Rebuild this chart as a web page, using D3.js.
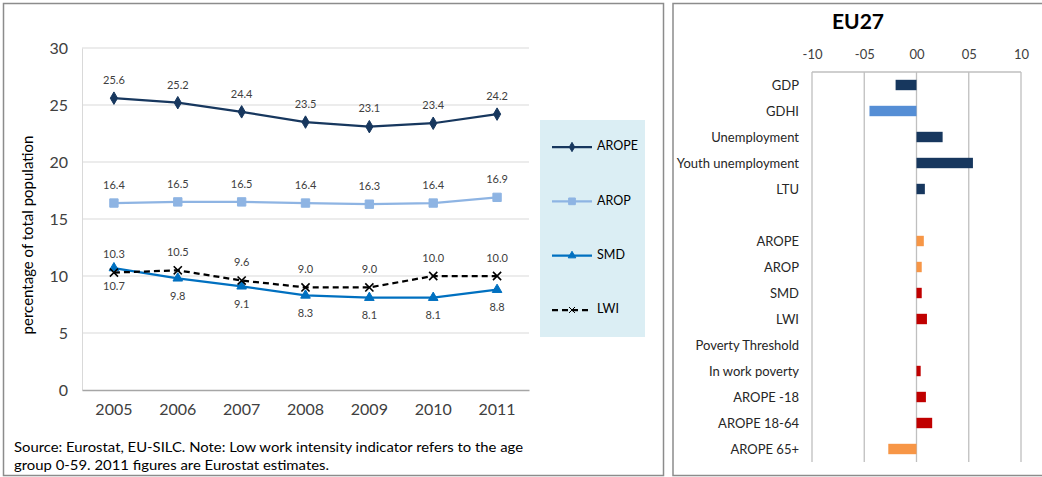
<!DOCTYPE html>
<html><head><meta charset="utf-8">
<script src="https://cdnjs.cloudflare.com/ajax/libs/d3/7.8.5/d3.min.js"></script>
<style>
html,body{margin:0;padding:0;background:#fff;}
svg text{font-family:Lato,"Open Sans",sans-serif;}
</style></head>
<body>
<svg id="c" width="1042" height="477"></svg>
<script>
// ---------- data: left chart ----------
const years = ["2005","2006","2007","2008","2009","2010","2011"];
const arope = [25.6,25.2,24.4,23.5,23.1,23.4,24.2];
const arop  = [16.4,16.5,16.5,16.4,16.3,16.4,16.9];
const smd   = [10.7,9.8,9.1,8.3,8.1,8.1,8.8];
const lwi   = [10.3,10.5,9.6,9.0,9.0,10.0,10.0];
const seriesNames = ["AROPE","AROP","SMD","LWI"];
const yTicks = [0,5,10,15,20,25,30];
const yTitle = "percentage of total population";
const note1 = "Source: Eurostat, EU-SILC. Note: Low work intensity indicator refers to the age";
const note2 = "group 0-59. 2011 figures are Eurostat estimates.";

// ---------- data: right chart ----------
const indicators = ["GDP","GDHI","Unemployment","Youth unemployment","LTU","",
  "AROPE","AROP","SMD","LWI","Poverty Threshold","In work poverty","AROPE -18","AROPE 18-64","AROPE 65+"];
const changes = [-0.20,-0.45,0.25,0.54,0.08,null,0.07,0.05,0.05,0.10,0,0.04,0.09,0.15,-0.27];
const groups = ["macro","income","macro","macro","macro","none",
  "povA","povA","povB","povB","povB","povB","povB","povB","povA"];
const xTickVals = [-1,-0.5,0,0.5,1];
const xTickLabels = ["-10","-05","00","05","10"];
const rightTitle = "EU27";

const svg = d3.select("#c");

// ---------- left panel ----------
svg.append("rect").attr("x",3.5).attr("y",3.5).attr("width",660).attr("height",472)
  .attr("fill","#fff").attr("stroke","#8c8c8c").attr("stroke-width",1.5);

const L = {left:82, right:529, top:48, bottom:390};
const x = d3.scaleBand().domain(years).range([L.left,L.right]);
const y = d3.scaleLinear().domain([0,30]).range([L.bottom,L.top]);
const cx = d => x(d) + x.bandwidth()/2;

// gridlines
svg.append("g").selectAll("line").data(yTicks.filter(t=>t>0)).join("line")
  .attr("x1",L.left).attr("x2",L.right).attr("y1",d=>y(d)).attr("y2",d=>y(d))
  .attr("stroke","#d9d9d9").attr("stroke-width",1);
// y axis
const yAx = svg.append("g").attr("transform",`translate(${L.left},0)`)
  .call(d3.axisLeft(y).tickValues(yTicks).tickSize(0).tickPadding(14));
yAx.select(".domain").attr("stroke","#d9d9d9");
yAx.selectAll("text").attr("font-size",16).attr("fill","#404040").attr("font-family","Lato,'Open Sans',sans-serif");
// x axis
const xAx = svg.append("g").attr("transform",`translate(0,${L.bottom})`)
  .call(d3.axisBottom(x).tickSize(0).tickPadding(14));
xAx.select(".domain").attr("stroke","#a6a6a6").attr("stroke-width",1.5);
xAx.selectAll("text").attr("font-size",16).attr("fill","#404040").attr("font-family","Lato,'Open Sans',sans-serif");

svg.append("text").attr("transform",`translate(29,235) rotate(-90)`)
  .attr("text-anchor","middle").attr("dominant-baseline","middle").attr("font-size",15).attr("fill","#000").text(yTitle);

const series = [
  {name:"AROPE", vals:arope, color:"#17375e", dash:null, marker:"diamond", lab:-17},
  {name:"AROP",  vals:arop,  color:"#8eb4e3", dash:null, marker:"square", lab:-17},
  {name:"SMD",   vals:smd,   color:"#0070c0", dash:null, marker:"triangle", lab:19},
  {name:"LWI",   vals:lwi,   color:"#000000", dash:"6,4", marker:"cross", lab:-17}
];
const symType = {diamond:d3.symbolDiamond, square:d3.symbolSquare, triangle:d3.symbolTriangle, cross:d3.symbolX};
const symSize = {diamond:45, square:70, triangle:40, cross:45};

const line = d3.line().x((d,i)=>cx(years[i])).y(d=>y(d));
series.forEach(s=>{
  svg.append("path").datum(s.vals).attr("d",line).attr("fill","none")
    .attr("stroke",s.color).attr("stroke-width",2.25).attr("stroke-dasharray",s.dash);
  const g = svg.append("g");
  g.selectAll("path").data(s.vals).join("path")
    .attr("transform",(d,i)=>`translate(${cx(years[i])},${y(d)})`)
    .attr("d",d3.symbol(symType[s.marker],symSize[s.marker]))
    .attr("fill",s.marker==="cross"?"none":s.color)
    .attr("stroke",s.color).attr("stroke-width",s.marker==="cross"?1.6:1);
  g.selectAll("text").data(s.vals).join("text")
    .attr("x",(d,i)=>cx(years[i])).attr("y",d=>y(d)+s.lab)
    .attr("text-anchor","middle").attr("dominant-baseline","middle")
    .attr("font-size",11).attr("fill","#404040").text(d=>d.toFixed(1));
});

// legend
svg.append("rect").attr("x",540).attr("y",120).attr("width",105).attr("height",217).attr("fill","#dbeef4");
const legY = d3.scalePoint().domain(seriesNames).range([147,310]);
series.forEach(s=>{
  const yy = legY(s.name);
  svg.append("line").attr("x1",552).attr("x2",592).attr("y1",yy).attr("y2",yy)
    .attr("stroke",s.color).attr("stroke-width",2.25).attr("stroke-dasharray",s.dash);
  svg.append("path").attr("transform",`translate(572,${yy})`)
    .attr("d",d3.symbol(symType[s.marker],s.marker==="square"?45:25))
    .attr("fill",s.marker==="cross"?"none":s.color).attr("stroke",s.color).attr("stroke-width",1);
  svg.append("text").attr("x",597).attr("y",yy).attr("dominant-baseline","middle")
    .attr("font-size",12.5).attr("fill","#000").text(s.name);
});

svg.append("text").attr("x",14).attr("y",452).attr("font-size",14).attr("fill","#000")
  .attr("textLength",509).attr("lengthAdjust","spacingAndGlyphs").text(note1);
svg.append("text").attr("x",14).attr("y",470).attr("font-size",14).attr("fill","#000")
  .attr("textLength",315).attr("lengthAdjust","spacingAndGlyphs").text(note2);

// ---------- right panel ----------
svg.append("rect").attr("x",673).attr("y",3.5).attr("width",380).attr("height",472)
  .attr("fill","#fff").attr("stroke","#8c8c8c").attr("stroke-width",1.5);

const R = {left:812, right:1021, top:72, bottom:462};
const xr = d3.scaleLinear().domain([-1,1]).range([R.left,R.right]);
const yr = d3.scaleBand().domain(indicators.map((d,i)=>i)).range([R.top,R.bottom]).paddingInner(0.6).paddingOuter(0.3);
const colorOf = d3.scaleOrdinal().domain(["macro","income","povA","povB","none"])
  .range(["#17375e","#558ed5","#f79646","#c00000","none"]);

svg.append("g").selectAll("line").data(xTickVals).join("line")
  .attr("x1",d=>xr(d)).attr("x2",d=>xr(d)).attr("y1",R.top).attr("y2",R.bottom)
  .attr("stroke","#bfbfbf").attr("stroke-width",1.3);
svg.append("line").attr("x1",R.left).attr("x2",R.right).attr("y1",R.top).attr("y2",R.top)
  .attr("stroke","#bfbfbf").attr("stroke-width",1.3);
const xrAx = svg.append("g").attr("transform",`translate(0,${R.top})`)
  .call(d3.axisTop(xr).tickValues(xTickVals).tickFormat((d,i)=>xTickLabels[i]).tickSize(0).tickPadding(13));
xrAx.select(".domain").remove();
xrAx.selectAll("text").attr("font-size",13).attr("fill","#404040").attr("font-family","Lato,'Open Sans',sans-serif");

svg.append("g").selectAll("rect").data(changes.map((v,i)=>({v,i})).filter(d=>d.v!==null)).join("rect")
  .attr("x",d=>xr(Math.min(0,d.v))).attr("width",d=>Math.abs(xr(d.v)-xr(0)))
  .attr("y",d=>yr(d.i)).attr("height",yr.bandwidth())
  .attr("fill",d=>colorOf(groups[d.i]));

svg.append("g").selectAll("text").data(indicators).join("text")
  .attr("x",799).attr("y",(d,i)=>yr(i)+yr.bandwidth()/2+1.5).attr("text-anchor","end")
  .attr("dominant-baseline","middle").attr("font-size",13).attr("fill","#262626").text(d=>d);

svg.append("text").attr("x",858).attr("y",24).attr("text-anchor","middle").attr("dominant-baseline","middle")
  .attr("font-size",21).attr("font-weight","bold").attr("fill","#000").text(rightTitle);
</script>
</body></html>
